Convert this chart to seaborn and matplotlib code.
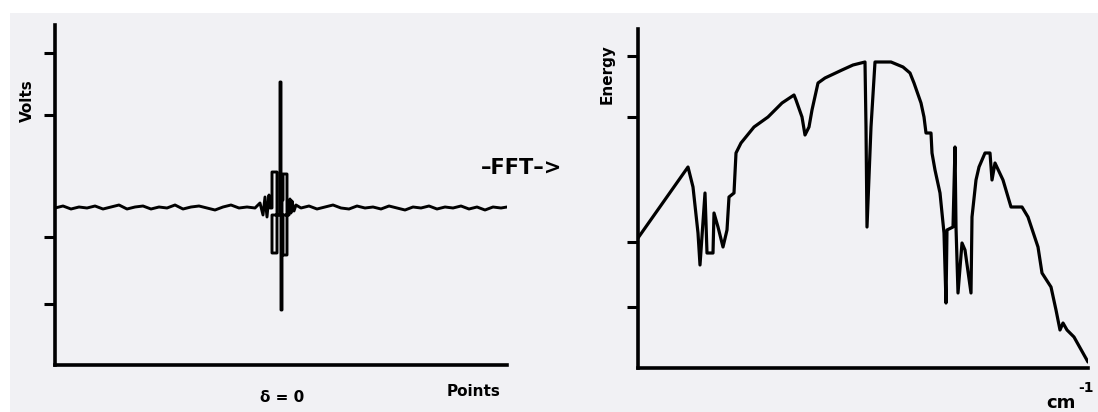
import numpy as np
import pandas as pd
import seaborn as sns
import matplotlib.pyplot as plt
from matplotlib.patches import Rectangle

# interferogram (left panel): points vs volts
punkte = [0, 8, 16, 24, 32, 40, 48, 56, 64, 72, 80, 88, 96, 104, 112, 120, 128,
          136, 144, 152, 160, 168, 176, 184, 192, 200, 205, 208, 210, 212, 214,
          215, 217, 217, 222, 222, 217, 217, 225, 225, 226, 226, 227, 227, 228,
          228, 232, 232, 228, 228, 234, 235, 236, 237, 239, 241, 246, 254, 262,
          270, 278, 286, 294, 302, 310, 318, 326, 334, 342, 350, 358, 366, 374,
          382, 390, 398, 406, 414, 422, 430, 438, 446, 452]
volt = [157, 159, 156, 158, 157, 159, 156, 158, 160, 156, 158, 159, 156, 158,
        157, 160, 156, 158, 159, 157, 155, 158, 160, 157, 158, 157, 162, 150,
        168, 148, 170, 157, 157, 193, 193, 112, 112, 150, 150, 283, 283, 55,
        55, 165, 165, 191, 191, 110, 110, 150, 150, 166, 152, 164, 154, 160,
        157, 159, 156, 158, 160, 157, 156, 159, 157, 158, 156, 159, 157, 155,
        158, 157, 159, 156, 158, 157, 159, 156, 158, 155, 158, 157, 158]
volt_ticks = [61, 128, 250, 312]

# spectrum (right panel): wavenumber vs energy
wellenzahl = [0, 50, 55, 60, 62, 67, 69, 75, 76, 80, 85, 89, 91, 96, 98, 103, 116,
              130, 144, 156, 158, 164, 167, 171, 174, 180, 187, 204, 215, 227,
              228, 229, 233, 237, 253, 265, 272, 276, 283, 286, 288, 293, 294,
              297, 302, 306, 308, 309, 315, 317, 318, 320, 324, 327, 333, 334,
              338, 341, 347, 352, 354, 357, 365, 373, 384, 390, 400, 404, 413,
              418, 422, 425, 429, 436, 450]
energie = [130, 201, 181, 135, 103, 175, 115, 115, 155, 141, 121, 138, 171, 175,
           215, 225, 241, 251, 265, 273, 268, 251, 233, 241, 258, 285, 290, 298,
           303, 306, 241, 141, 241, 306, 306, 301, 295, 285, 265, 251, 235, 235,
           215, 198, 175, 135, 65, 138, 141, 221, 141, 75, 125, 118, 75, 151,
           188, 201, 215, 215, 188, 205, 188, 161, 161, 151, 121, 95, 81, 58,
           38, 45, 38, 31, 6]
energie_ticks = [61, 126, 251, 312]

sns.set_style("white")
plt.rcParams['font.family'] = ['DejaVu Sans']

fig = plt.figure(figsize=(10.98, 4.12), dpi=100, facecolor='white')
# speckled grey paper background, with the white strip on top and left
fig.patches.append(Rectangle((10/1098, 0), 1, (412-13)/412, transform=fig.transFigure,
                             facecolor='#f1f1f4', edgecolor='none', zorder=-5))

ax1 = fig.add_axes([55/1098, 47/412, 452/1098, 340/412])
ax2 = fig.add_axes([638/1098, 44/412, 450/1098, 339/412])

df1 = pd.DataFrame({'x': punkte, 'y': volt})
df2 = pd.DataFrame({'x': wellenzahl, 'y': energie})
sns.lineplot(data=df1, x='x', y='y', ax=ax1, sort=False, estimator=None,
             color='black', linewidth=2.1)
sns.lineplot(data=df2, x='x', y='y', ax=ax2, sort=False, estimator=None,
             color='black', linewidth=2.3)

for ax, yt, top in [(ax1, volt_ticks, 340), (ax2, energie_ticks, 339)]:
    ax.set_facecolor('none')
    ax.set_xlim(0, 452)
    ax.set_ylim(0, top)
    ax.set_xticks([])
    ax.set_yticks(yt)
    ax.set_yticklabels([])
    ax.tick_params(axis='y', left=True, direction='out', length=8, width=2.2,
                   color='black')
    ax.set_xlabel('')
    ax.set_ylabel('')
    for s in ['top', 'right']:
        ax.spines[s].set_visible(False)
    for s in ['left', 'bottom']:
        ax.spines[s].set_linewidth(2.6)
        ax.spines[s].set_color('black')
ax2.set_xlim(0, 450)

# labels
tk = dict(ha='center', va='center', fontweight='bold', color='black')
fig.text(27/1098, 1 - 101/412, 'Volts', rotation=90, fontsize=11, **tk)
fig.text(282/1098, 1 - 397/412, 'δ = 0', fontsize=11, **tk)
fig.text(474/1098, 1 - 391/412, 'Points', fontsize=11, **tk)
fig.text(521/1098, 1 - 168/412, '–FFT–>', fontsize=15, **tk)
fig.text(607/1098, 1 - 74/412, 'Energy', rotation=90, fontsize=11, **tk)
fig.text(1061/1098, 1 - 403/412, 'cm', fontsize=13, **tk)
fig.text(1086/1098, 1 - 388/412, '-1', fontsize=10, **tk)

fig.savefig('out.png', dpi=100, facecolor=fig.get_facecolor())
